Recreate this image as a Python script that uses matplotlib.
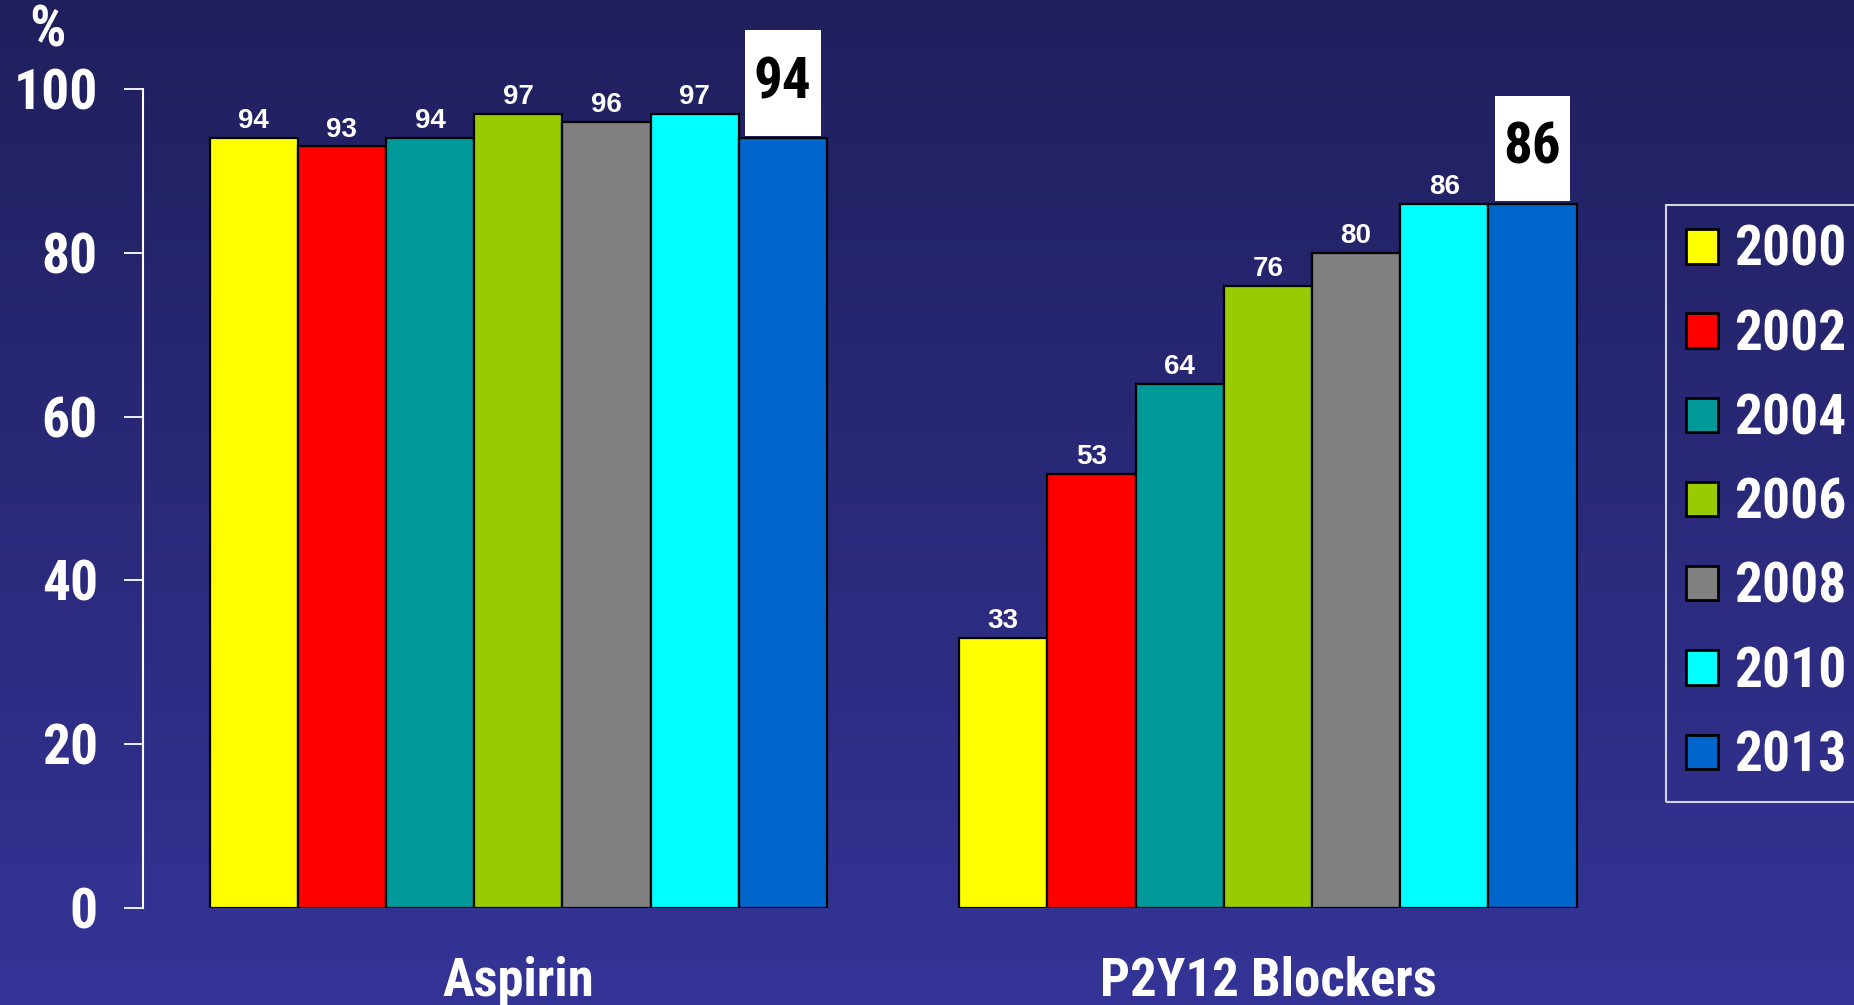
import numpy as np
import matplotlib
matplotlib.use("Agg")
import matplotlib.pyplot as plt
from matplotlib import font_manager
from matplotlib.patches import Patch, Rectangle

# ---- data ----
categories = ["Aspirin", "P2Y12 Blockers"]
years = ["2000", "2002", "2004", "2006", "2008", "2010", "2013"]
aspirin = [94, 93, 94, 97, 96, 97, 94]
p2y12 = [33, 53, 64, 76, 80, 86, 86]
yticks = [0, 20, 40, 60, 80, 100]

colors = ["#FFFF00", "#FF0000", "#009999", "#99CC00", "#808080", "#00FFFF", "#0066CC"]

# ---- fonts: a narrow bold sans for the big labels ----
bold_families = {f.name for f in font_manager.fontManager.ttflist
                 if isinstance(f.weight, int) and f.weight >= 700 and f.style == "normal"}
narrow = next(f for f in ["Liberation Sans Narrow", "Arial Narrow", "Roboto Condensed",
                          "PT Sans Narrow", "Archivo Narrow", "Encode Sans Semi Condensed",
                          "Barlow Semi Condensed", "Asap Condensed", "Cabin Condensed",
                          "Liberation Sans"] if f in bold_families)
regular = "Liberation Sans"

W, H = 1854, 1005
fig = plt.figure(figsize=(W / 100, H / 100), dpi=100)

# background: vertical gradient from dark navy to indigo
bg = fig.add_axes([0, 0, 1, 1], zorder=-10)
top = np.array([0x20, 0x1F, 0x5D]) / 255
bottom = np.array([0x34, 0x34, 0x97]) / 255
t = np.linspace(0, 1, 256)[:, None, None]
grad = top * (1 - t) + bottom * t
bg.imshow(grad, aspect="auto", extent=[0, 1, 0, 1], interpolation="bilinear")
bg.axis("off")

# main axes
ax = fig.add_axes([143 / W, 97 / H, (W - 143) / W, 819 / H])
ax.patch.set_alpha(0)
ax.set_ylim(0, 100)
ax.set_xlim(-1.254, 18.145)

n = len(years)
series = [aspirin, p2y12]
group_start = [g * (n + 1.5) for g in range(len(categories))]

for g, vals in enumerate(series):
    for i, v in enumerate(vals):
        x = group_start[g] + i
        ax.bar(x, v, width=1.0, color=colors[i], edgecolor="black", linewidth=1.6, zorder=3)
        if i < n - 1:
            ax.annotate(str(v), (x, v), xytext=(0, 7), textcoords="offset points",
                        ha="center", va="baseline", color="white", fontsize=20,
                        fontweight="bold", family=regular, zorder=4)
        else:
            # highlighted latest value in a white box
            box = Rectangle((x - 0.43, v + 0.3), 0.86, 12.9, facecolor="white",
                            edgecolor="none", clip_on=False, zorder=4)
            ax.add_patch(box)
            ax.text(x, v + 0.3 + 6.45, str(v), ha="center", va="center", color="black",
                    fontsize=41, fontweight="bold", family=narrow, clip_on=False, zorder=5)

# category labels
for g, name in enumerate(categories):
    cx = group_start[g] + (n - 1) / 2
    ax.text(cx, -0.107, name, transform=ax.get_xaxis_transform(), ha="center",
            va="baseline", color="white", fontsize=38, fontweight="bold", family=narrow)

# axis styling
for s in ["top", "right", "bottom"]:
    ax.spines[s].set_visible(False)
ax.spines["left"].set_color("white")
ax.spines["left"].set_linewidth(1.5)
ax.spines["left"].set_bounds(0, 100)
ax.set_xticks([])
ax.set_yticks(yticks)
ax.set_yticklabels([str(v) for v in yticks])
ax.tick_params(axis="y", colors="white", length=13.5, width=1.3, pad=19)
for lab in ax.get_yticklabels():
    lab.set_fontsize(40)
    lab.set_fontweight("bold")
    lab.set_family(narrow)
    lab.set_color("white")

fig.text(47 / W, 1 - 31 / H, "%", ha="center", va="center", color="white",
         fontsize=41, fontweight="bold", family=narrow)

# legend
handles = [Patch(facecolor=c, edgecolor="black", linewidth=2) for c in colors]
leg = fig.legend(handles, years, loc="upper left", bbox_to_anchor=(1666 / W, 1 - 205 / H),
                 bbox_transform=fig.transFigure, borderaxespad=0, frameon=True,
                 fancybox=False, facecolor="none", edgecolor="white",
                 prop={"family": narrow, "weight": "bold", "size": 40},
                 labelcolor="white", handlelength=0.575, handleheight=0.575,
                 handletextpad=0.3, labelspacing=0.58, borderpad=0.36)
leg.get_frame().set_linewidth(1.5)

fig.savefig("out.png", dpi=100)
